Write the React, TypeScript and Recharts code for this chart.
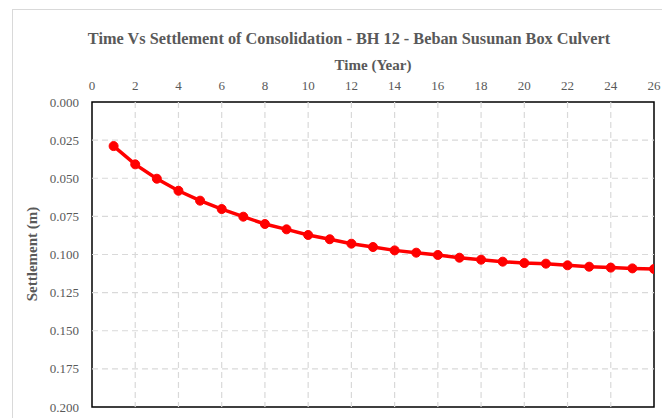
import React from "react";
import { LineChart, Line, XAxis, YAxis, ReferenceArea, ReferenceLine } from "recharts";

// Time in years since loading
const years = [1, 2, 3, 4, 5, 6, 7, 8, 9, 10, 11, 12, 13, 14, 15, 16, 17, 18, 19, 20, 21, 22, 23, 24, 25, 26];
// Consolidation settlement in metres
const settlement = [
  0.0289, 0.0409, 0.0503, 0.0582, 0.0647, 0.0702, 0.0752, 0.08, 0.0835, 0.0872,
  0.09, 0.0929, 0.0951, 0.0973, 0.0988, 0.1003, 0.1021, 0.1034, 0.1047, 0.1056,
  0.106, 0.1071, 0.108, 0.1086, 0.1091, 0.1095,
];
const xTicks = [0, 2, 4, 6, 8, 10, 12, 14, 16, 18, 20, 22, 24, 26];
const yTicks = [0, 0.025, 0.05, 0.075, 0.1, 0.125, 0.15, 0.175, 0.2];

const data = years.map((t, i) => ({ t, s: settlement[i] }));

const FONT = "'Liberation Serif', 'Times New Roman', serif";
const GREY = "#595959";
const GRID = "#d9d9d9";

// interior grid positions (the frame covers the outer ones)
const xGrid = xTicks.slice(1, -1);
const yGrid = yTicks.slice(1, -1);

export default function App() {
  return (
    <div style={{ position: "absolute", left: 0, top: 0, width: 662, height: 418, background: "#fff", overflow: "hidden" }}>
      <div
        style={{
          position: "absolute",
          left: 12,
          top: 9,
          width: 700,
          height: 460,
          border: "1px solid #d9d9d9",
          boxSizing: "border-box",
        }}
      />
      <div
        style={{
          position: "absolute",
          left: 0,
          width: 698,
          top: 29,
          textAlign: "center",
          fontFamily: FONT,
          fontWeight: "bold",
          fontSize: 16.3,
          color: GREY,
          whiteSpace: "nowrap",
        }}
      >
        Time Vs Settlement of Consolidation - BH 12 - Beban Susunan Box Culvert
      </div>
      <div
        style={{
          position: "absolute",
          left: 92,
          width: 562,
          top: 57,
          textAlign: "center",
          fontFamily: FONT,
          fontWeight: "bold",
          fontSize: 15,
          color: GREY,
        }}
      >
        Time (Year)
      </div>
      <div
        style={{
          position: "absolute",
          left: 32,
          top: 254,
          transform: "translate(-50%, -50%) rotate(-90deg)",
          fontFamily: FONT,
          fontWeight: "bold",
          fontSize: 15,
          color: GREY,
          whiteSpace: "nowrap",
        }}
      >
        Settlement (m)
      </div>
      <div style={{ position: "absolute", left: 0, top: 0 }}>
        <LineChart width={662} height={418} data={data} margin={{ top: 72, right: 8, bottom: 11, left: 0 }}>
          <XAxis
            dataKey="t"
            type="number"
            orientation="top"
            domain={[0, 26]}
            ticks={xTicks}
            interval={0}
            height={30}
            axisLine={false}
            tickLine={false}
            tickMargin={6}
            tick={{ fill: GREY, fontSize: 13, fontFamily: FONT }}
            allowDataOverflow
          />
          <YAxis
            type="number"
            reversed
            domain={[0, 0.2]}
            ticks={yTicks}
            interval={0}
            width={92}
            axisLine={false}
            tickLine={false}
            tickMargin={7}
            tickFormatter={(v: number) => v.toFixed(3)}
            tick={{ fill: GREY, fontSize: 13, fontFamily: FONT }}
            allowDataOverflow
          />
          {yGrid.map((v) => (
            <ReferenceLine key={`h${v}`} y={v} stroke={GRID} strokeDasharray="6 4" strokeWidth={1.2} />
          ))}
          {xGrid.map((t) => (
            <ReferenceLine key={`v${t}`} x={t} stroke={GRID} strokeDasharray="6 4" strokeWidth={1.2} />
          ))}
          <ReferenceArea x1={0} x2={26} y1={0} y2={0.2} fill="none" stroke="#000" strokeWidth={1.5} ifOverflow="visible" />
          <Line
            dataKey="s"
            stroke="#ff0000"
            strokeWidth={3.5}
            dot={{ r: 4.5, fill: "#ff0000", stroke: "#ff0000", strokeWidth: 1 }}
            isAnimationActive={false}
          />
        </LineChart>
      </div>
    </div>
  );
}
